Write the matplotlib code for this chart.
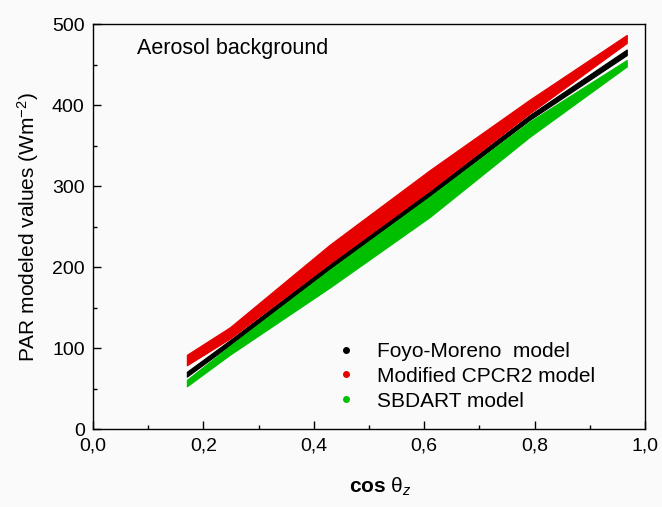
import matplotlib
matplotlib.use("Agg")
import matplotlib.pyplot as plt
from matplotlib.lines import Line2D
from matplotlib.ticker import MultipleLocator, FuncFormatter
import numpy as np

# cos(theta_z) positions where the band edges were read
cosz = [0.17, 0.248, 0.429, 0.61, 0.791, 0.967]

# lower / upper edges of each band of modeled PAR (W m-2)
foyo_lo = [65, 104, 198, 288, 382, 462]
foyo_hi = [71, 110, 204, 294, 388, 469]
cpcr2_lo = [79, 112, 205, 295, 390, 477]
cpcr2_hi = [92, 126, 228, 320, 407, 487]
sbdart_lo = [53, 92, 175, 262, 361, 448]
sbdart_hi = [61, 103, 197, 287, 380, 456]

labels = ["Foyo-Moreno  model", "Modified CPCR2 model", "SBDART model"]
colors = ["#000000", "#e60000", "#00bf00"]

plt.rcParams['font.family'] = ['Liberation Sans', 'DejaVu Sans']
plt.rcParams['mathtext.fontset'] = 'custom'
plt.rcParams['mathtext.rm'] = 'Liberation Sans'
plt.rcParams['mathtext.bf'] = 'Liberation Sans:bold'
plt.rcParams['mathtext.it'] = 'Liberation Sans:italic'

bg = "#fafafa"
fig = plt.figure(figsize=(6.62, 5.07), dpi=100, facecolor=bg)
ax = fig.add_axes([0.1405, 0.1533, 0.8338, 0.7987], facecolor=bg)

bands = [(foyo_lo, foyo_hi), (cpcr2_lo, cpcr2_hi), (sbdart_lo, sbdart_hi)]
for (lo, hi), c in zip(bands, colors):
    ax.fill_between(cosz, lo, hi, color=c, edgecolor=c, linewidth=0.8,
                    joinstyle='round', capstyle='round')

ax.set_xlim(0, 1.0)
ax.set_ylim(0, 500)
ax.xaxis.set_major_locator(MultipleLocator(0.2))
ax.xaxis.set_minor_locator(MultipleLocator(0.1))
ax.yaxis.set_major_locator(MultipleLocator(100))
ax.yaxis.set_minor_locator(MultipleLocator(50))
ax.xaxis.set_major_formatter(FuncFormatter(lambda v, p: ("%.1f" % v).replace(".", ",")))
ax.tick_params(which='major', direction='in', length=6, width=1, labelsize=14, pad=6)
ax.tick_params(which='minor', direction='in', length=3, width=1)
for s in ax.spines.values():
    s.set_linewidth(1)

ax.set_xlabel(r'$\mathbf{cos}$ θ$_{z}$', fontsize=15)
ax.xaxis.set_label_coords(0.52, -0.115)
ax.set_ylabel(r'PAR modeled values (Wm$^{-2}$)', fontsize=15, labelpad=8)

ax.text(0.08, 0.94, "Aerosol background", transform=ax.transAxes,
        fontsize=15.5, va='center', ha='left')

handles = [Line2D([], [], linestyle='none', marker='o', markersize=4,
                  color=c) for c in colors]
ax.legend(handles, labels, loc='lower left', bbox_to_anchor=(0.405, 0.0),
          frameon=False, fontsize=15, handlelength=1, handletextpad=1.0,
          labelspacing=0.28)

fig.savefig("out.png", dpi=100, facecolor=bg)
